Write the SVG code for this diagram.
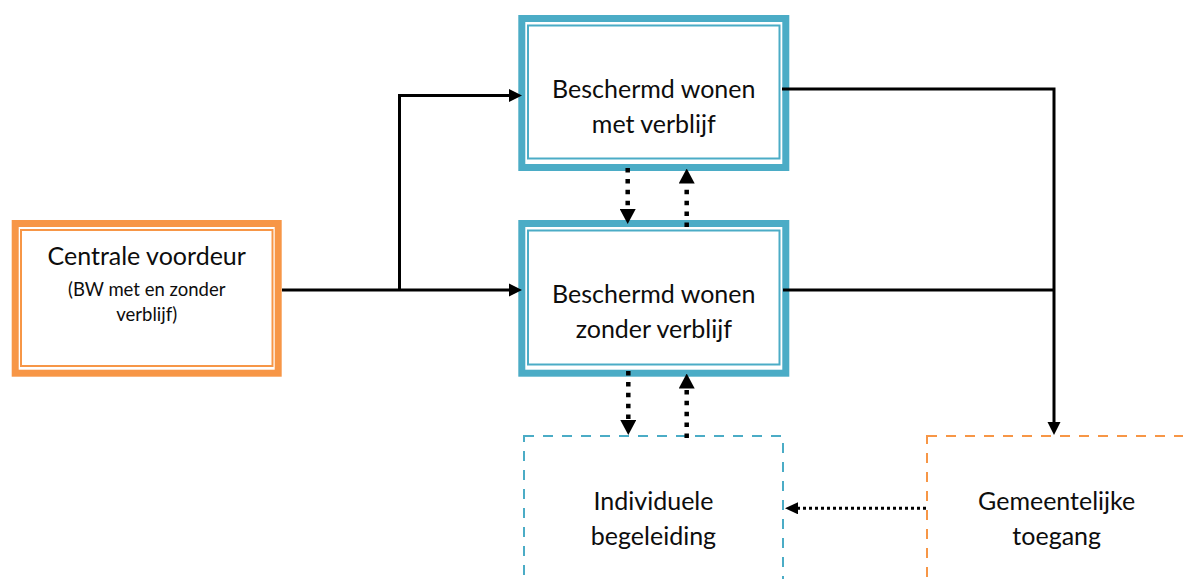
<svg xmlns="http://www.w3.org/2000/svg" width="1183" height="579" viewBox="0 0 1183 579">
  <style>
    .bg { fill: #ffffff; }
    .thick-o { fill: none; stroke: #F79646; stroke-width: 7; }
    .thin-o { fill: #ffffff; stroke: #F79646; stroke-width: 2; }
    .thick-b { fill: none; stroke: #4BACC6; stroke-width: 7; }
    .thin-b { fill: #ffffff; stroke: #4BACC6; stroke-width: 2; }
    .dash-b { fill: #ffffff; stroke: #4BACC6; stroke-width: 2; stroke-dasharray: 10 9; }
    .dash-o { fill: #ffffff; stroke: #F79646; stroke-width: 2; stroke-dasharray: 10 9; }
    .lbl { font-family: "Lato", "Liberation Sans", sans-serif; font-size: 25px; fill: #0d0d0d; text-anchor: middle; }
    .sub { font-size: 18.5px; }
    .solid { fill: none; stroke: #000000; stroke-width: 3; }
    .dotv { fill: none; stroke: #000000; stroke-width: 4.5; stroke-dasharray: 4.5 6.4; }
    .doth { fill: none; stroke: #000000; stroke-width: 3; stroke-dasharray: 3 3; }
  </style>
  <defs>
    <marker id="ah" markerUnits="userSpaceOnUse" viewBox="0 0 13 14" markerWidth="13" markerHeight="14" refX="0" refY="7" orient="auto">
      <path d="M0,0.5 L13,7 L0,13.5 Z" fill="#000000"/>
    </marker>
    <marker id="ahd" markerUnits="userSpaceOnUse" viewBox="0 0 15 16" markerWidth="15" markerHeight="16" refX="0" refY="8" orient="auto">
      <path d="M0,0 L15,8 L0,16 Z" fill="#000000"/>
    </marker>
    <marker id="ahh" markerUnits="userSpaceOnUse" viewBox="0 0 13 12" markerWidth="13" markerHeight="12" refX="0" refY="6" orient="auto">
      <path d="M0,0 L13,6 L0,12 Z" fill="#000000"/>
    </marker>
  </defs>
  <rect class="bg" x="0" y="0" width="1183" height="579"/>

  <g id="node-centrale-voordeur">
    <rect class="thick-o" x="15.2" y="223.5" width="263" height="149.7"/>
    <rect class="thin-o" x="21" y="230" width="251.5" height="136"/>
    <text class="lbl" x="146.7" y="265">Centrale voordeur</text>
    <text class="lbl sub" x="146.7" y="296">(BW met en zonder</text>
    <text class="lbl sub" x="146.7" y="320.5">verblijf)</text>
  </g>

  <g id="node-bw-met-verblijf">
    <rect class="thick-b" x="521.8" y="18.5" width="264" height="149"/>
    <rect class="thin-b" x="528" y="25.5" width="251.5" height="133"/>
    <text class="lbl" x="653.8" y="97.5">Beschermd wonen</text>
    <text class="lbl" x="653.8" y="133">met verblijf</text>
  </g>

  <g id="node-bw-zonder-verblijf">
    <rect class="thick-b" x="521.8" y="223.5" width="264" height="149.7"/>
    <rect class="thin-b" x="528" y="230.5" width="251.5" height="134"/>
    <text class="lbl" x="653.8" y="302.5">Beschermd wonen</text>
    <text class="lbl" x="653.8" y="338">zonder verblijf</text>
  </g>

  <g id="node-individuele-begeleiding">
    <rect class="dash-b" x="524" y="436" width="259" height="200"/>
    <text class="lbl" x="653.5" y="509.5">Individuele</text>
    <text class="lbl" x="653.5" y="544.5">begeleiding</text>
  </g>

  <g id="node-gemeentelijke-toegang">
    <rect class="dash-o" x="927" y="436" width="260" height="200"/>
    <text class="lbl" x="1056.7" y="509.5">Gemeentelijke</text>
    <text class="lbl" x="1056.7" y="545">toegang</text>
  </g>

  <g id="connectors">
    <path class="solid" d="M282,290 H509" marker-end="url(#ah)"/>
    <path class="solid" d="M399.5,290 V95.5 H509" marker-end="url(#ah)"/>
    <path class="solid" d="M782,89 H1054 V422" marker-end="url(#ah)"/>
    <path class="solid" d="M783,290 H1054"/>

    <path class="dotv" d="M627.7,168 V209" marker-end="url(#ahd)"/>
    <path class="dotv" d="M686.7,227 V183.5" marker-end="url(#ahd)"/>
    <path class="dotv" d="M628.3,371 V420" marker-end="url(#ahd)"/>
    <path class="dotv" d="M686.7,438 V388.5" marker-end="url(#ahd)"/>

    <path class="doth" d="M926,508.3 H798" marker-end="url(#ahh)"/>
  </g>
</svg>
